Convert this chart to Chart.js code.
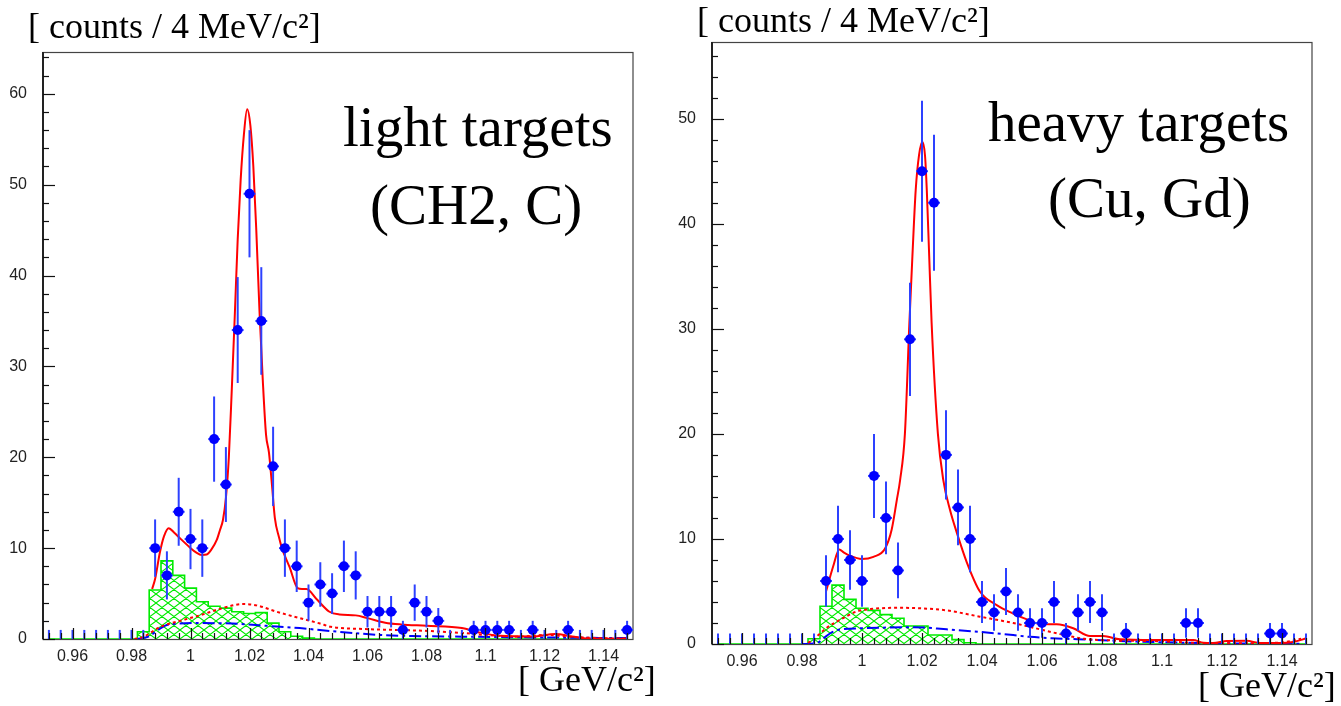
<!DOCTYPE html>
<html><head><meta charset="utf-8">
<script src="https://cdn.jsdelivr.net/npm/chart.js@4.4.0/dist/chart.umd.min.js"></script>
<style>
html,body{margin:0;padding:0;background:#fff;}
#wrap{position:relative;width:1341px;height:706px;overflow:hidden;background:#fff;}
canvas{position:absolute;top:0;}
#cL{left:0;} #cR{left:670px;}
</style></head><body>
<div id="wrap"><canvas id="cL" width="670" height="706"></canvas><canvas id="cR" width="671" height="706"></canvas></div>
<script>
// ---------- data ----------
const binCenters = [0.952,0.956,0.960,0.964,0.968,0.972,0.976,0.980,0.984,0.988,
  0.992,0.996,1.000,1.004,1.008,1.012,1.016,1.020,1.024,1.028,
  1.032,1.036,1.040,1.044,1.048,1.052,1.056,1.060,1.064,1.068,
  1.072,1.076,1.080,1.084,1.088,1.092,1.096,1.100,1.104,1.108,
  1.112,1.116,1.120,1.124,1.128,1.132,1.136,1.140,1.144,1.148];
const binHalfWidth = 0.002;

const lightCounts = [0,0,0,0,0,0,0,0,0,10,
  7,14,11,10,22,17,34,49,35,19,
  10,8,4,6,5,8,7,3,3,3,
  1,4,3,2,0,0,1,1,1,1,
  0,1,0,0,1,0,0,0,0,1];
const lightErrors = [1,1,1,1,1,1,1,1,1,3.16,
  2.65,3.74,3.32,3.16,4.69,4.12,5.83,7,5.92,4.36,
  3.16,2.83,2,2.45,2.24,2.83,2.65,1.73,1.73,1.73,
  1,2,1.73,1.41,1,1,1,1,1,1,
  1,1,1,1,1,1,1,1,1,1];
const heavyCounts = [0,0,0,0,0,0,0,0,0,6,
  10,8,6,16,12,7,29,45,42,18,
  13,10,4,3,5,3,2,2,4,1,
  3,4,3,0,1,0,0,0,0,2,
  2,0,0,0,0,0,1,1,0,0];
const heavyErrors = [1,1,1,1,1,1,1,1,1,2.45,
  3.16,2.83,2.45,4,3.46,2.65,5.39,6.71,6.48,4.24,
  3.61,3.16,2,1.73,2.24,1.73,1.41,1.41,2,1,
  1.73,2,1.73,1,1,1,1,1,1,1.41,
  1.41,1,1,1,1,1,1,1,1,1];

const lightBkgHist = [0,0,0,0,0,0,0,0,0.8,5.4,
  8.6,7.0,5.6,4.1,3.6,3.4,3.0,2.8,2.9,1.75,
  0.8,0.3,0.1,0,0,0,0,0,0,0,
  0,0,0,0,0,0,0,0,0,0,
  0,0,0,0,0,0,0,0,0,0];
const heavyBkgHist = [0,0,0,0,0,0,0,0,0.5,3.6,
  5.6,4.25,3.4,3.2,2.8,2.45,1.72,1.72,0.85,0.85,
  0.42,0.12,0,0,0,0,0,0,0,0,
  0,0,0,0,0,0,0,0,0,0,
  0,0,0,0,0,0,0,0,0,0];

// total fit (red solid)
const lightFitX = [0.9870,0.9880,0.9896,0.9910,0.9926,0.9945,0.9964,0.9997,1.0020,1.0038,1.0055,1.0070,1.0089,1.0100,1.0110,1.0120,1.0130,1.0140,1.0150,1.0160,1.0170,1.0181,1.0192,1.0203,1.0213,1.0223,1.0234,1.0245,1.0256,1.0266,1.0276,1.0286,1.0300,1.0310,1.0336,1.0363,1.0378,1.0393,1.0427,1.0471,1.0505,1.0560,1.0600,1.0660,1.0714,1.0800,1.0920,1.0975,1.1050,1.1160,1.1236,1.1294,1.1350,1.1480];
const lightFitY = [5.5,6.6,9.5,11.3,12.2,11.7,11.1,10.1,9.5,9.25,9.3,9.8,10.9,12.0,13.1,15.5,20,27.5,35.5,44,50.5,55.5,58.3,56.5,52,45,36,28.5,22.5,20.5,17,13.3,11.2,10.0,7.9,5.6,5.5,5.5,4.4,3.0,2.7,2.6,2.3,1.8,1.6,1.45,1.2,0.75,0.35,0.28,0.55,0.28,0.05,0.02];
// red dotted component
const lightDottedX = [0.9810,0.9838,0.9860,0.9889,0.9920,0.9953,1.0031,1.0109,1.0177,1.0224,1.0292,1.0370,1.0439,1.0475,1.0583,1.0697,1.0810,1.0922,1.1003,1.1104,1.1206,1.1284,1.1375,1.1480];
const lightDottedY = [0,0.2,0.6,1.2,1.6,1.9,2.6,3.4,3.85,3.7,3.0,2.3,1.7,1.35,1.1,1.0,0.88,0.66,0.44,0.26,0.44,0.26,0.1,0.05];
// blue dash-dot component
const lightDashDotX = [0.9820,0.9860,0.9890,0.9913,0.9937,1.0031,1.0143,1.0258,1.0370,1.0481,1.0640,1.0750,1.0922,1.1088,1.1257,1.1480];
const lightDashDotY = [0,0.3,1.0,1.45,1.65,1.75,1.7,1.45,1.2,0.85,0.45,0.33,0.26,0.2,0.15,0.1];

const heavyFitX = [0.9880,0.9904,0.9924,0.9940,0.9960,0.9999,1.0038,1.0077,1.0099,1.0116,1.0127,1.0143,1.0158,1.0168,1.0179,1.0190,1.0201,1.0210,1.0216,1.0224,1.0232,1.0253,1.0271,1.0293,1.0316,1.0349,1.0393,1.0449,1.0504,1.0554,1.0593,1.0649,1.0704,1.0760,1.0804,1.0860,1.0970,1.1104,1.1138,1.1170,1.1216,1.1282,1.1327,1.1393,1.1437,1.1482];
const heavyFitY = [5.0,7.4,9.0,8.7,8.4,8.1,8.3,9.1,10.9,13.7,15.6,20,30.6,36.9,43.2,46.5,47.8,46.5,43.2,36.9,30.6,20,15.6,12.8,10.6,7.8,5.0,3.7,2.9,2.3,1.9,1.88,1.5,0.76,0.76,0.45,0.38,0.38,0.12,0.1,0.29,0.31,0.1,0.1,0.2,0.54];
const heavyDottedX = [0.9820,0.9837,0.9860,0.9885,0.9927,0.9982,1.0038,1.0116,1.0193,1.0282,1.0393,1.0504,1.0550,1.0600,1.0660,1.0740,1.0843,1.0984,1.1125,1.1266,1.1400,1.1464];
const heavyDottedY = [0.1,0.4,1.0,1.6,2.3,3.1,3.35,3.45,3.4,3.2,2.6,2.0,1.7,1.35,0.95,0.5,0.33,0.27,0.1,0.07,0.15,0.5];
const heavyDashDotX = [0.9800,0.9850,0.9870,0.9893,0.9921,1.0004,1.0171,1.0282,1.0393,1.0504,1.0560,1.0632,1.0773,1.0914,1.1055,1.1196,1.1460];
const heavyDashDotY = [0,0.1,0.5,1.0,1.35,1.5,1.6,1.4,1.15,0.85,0.68,0.55,0.4,0.23,0.13,0.07,0.03];

const xTickValues = [0.96,0.98,1.00,1.02,1.04,1.06,1.08,1.10,1.12,1.14];
const xTickLabels = ['0.96','0.98','1','1.02','1.04','1.06','1.08','1.1','1.12','1.14'];
const lightYTicks = [0,10,20,30,40,50,60];
const heavyYTicks = [0,10,20,30,40,50];

const yAxisTitle = '[ counts / 4 MeV/c\u00B2]';
const xAxisTitle = '[ GeV/c\u00B2]';
const lightLabel = ['light targets', '(CH2, C)'];
const heavyLabel = ['heavy targets', '(Cu, Gd)'];

// ---------- helpers ----------
const pts = (xs, ys) => xs.map((x, i) => ({x: x, y: ys[i]}));

function makeHatch(color) {
  const c = document.createElement('canvas');
  const w = 12, h = 9;
  c.width = w; c.height = h;
  const g = c.getContext('2d');
  g.strokeStyle = color; g.lineWidth = 1.1;
  g.beginPath();
  for (const dx of [-w, 0, w]) {
    g.moveTo(dx, 0); g.lineTo(dx + w, h);
    g.moveTo(dx + w, 0); g.lineTo(dx, h);
  }
  g.stroke();
  return g.createPattern(c, 'repeat');
}

const errorBarsPlugin = {
  id: 'errorBars',
  beforeDatasetDraw(chart, args) {
    const ds = chart.data.datasets[args.index];
    if (!ds.errorBars) return;
    const xs = chart.scales.x, ys = chart.scales.y, ctx = chart.ctx, a = chart.chartArea;
    ctx.save();
    ctx.beginPath(); ctx.rect(a.left, a.top, a.right - a.left, a.bottom - a.top); ctx.clip();
    ctx.strokeStyle = 'rgb(45,65,255)';
    ctx.lineWidth = 2;
    ds.data.forEach((p, i) => {
      const e = ds.errorBars[i];
      const px = xs.getPixelForValue(p.x);
      const lo = Math.max(0, p.y - e), hi = p.y + e;
      ctx.beginPath();
      ctx.moveTo(px, ys.getPixelForValue(lo));
      ctx.lineTo(px, ys.getPixelForValue(hi));
      ctx.stroke();
      if (p.y > 0) {
        const py = ys.getPixelForValue(p.y);
        ctx.beginPath();
        ctx.moveTo(xs.getPixelForValue(p.x - binHalfWidth), py);
        ctx.lineTo(xs.getPixelForValue(p.x + binHalfWidth), py);
        ctx.stroke();
      }
    });
    ctx.restore();
  }
};

const framePlugin = {
  id: 'frameTicks',
  beforeDatasetsDraw(chart) {
    const {ctx, chartArea: a} = chart;
    ctx.save();
    ctx.strokeStyle = '#444';
    ctx.lineWidth = 1.2;
    ctx.strokeRect(a.left, a.top + 0.5, a.right - a.left, a.bottom - a.top);
    ctx.restore();
  },
  afterDatasetsDraw(chart, args, opts) {
    const {ctx, chartArea: a, scales: {x, y}} = chart;
    ctx.save();
    ctx.strokeStyle = '#222';
    ctx.lineWidth = 2;
    ctx.beginPath(); ctx.moveTo(a.left, a.top); ctx.lineTo(a.left, a.bottom); ctx.stroke();
    ctx.lineWidth = 1.2;
    ctx.strokeStyle = '#111';
    const xStep = opts.xMinor;
    for (let k = 0; ; k++) {
      const v = x.min + xStep / 2 + k * xStep;
      if (v > x.max) break;
      const major = Math.abs(v / opts.xMajor - Math.round(v / opts.xMajor)) < 1e-6;
      const len = major ? 11 : 6;
      const px = Math.round(x.getPixelForValue(v)) + 0.5;
      ctx.beginPath(); ctx.moveTo(px, a.bottom); ctx.lineTo(px, a.bottom - len); ctx.stroke();
    }
    for (let v = 0; v <= y.max + 1e-9; v += opts.yMinor) {
      const major = Math.abs(v / opts.yMajor - Math.round(v / opts.yMajor)) < 1e-6;
      const len = major ? 12 : 6;
      const py = Math.round(y.getPixelForValue(v)) + 0.5;
      ctx.beginPath(); ctx.moveTo(a.left, py); ctx.lineTo(a.left + len, py); ctx.stroke();
    }
    ctx.restore();
  }
};

const textPlugin = {
  id: 'panelText',
  afterDraw(chart, args, opts) {
    const ctx = chart.ctx;
    ctx.save();
    ctx.fillStyle = '#000';
    ctx.textBaseline = 'alphabetic';
    ctx.textAlign = 'left';
    (opts.items || []).forEach(it => {
      ctx.font = it.size + 'px "Liberation Serif", "Times New Roman", serif';
      ctx.fillText(it.text, it.x, it.y);
    });
    ctx.restore();
  }
};

function buildChart(canvasId, cfg) {
  const hatch = makeHatch('rgb(0,235,0)');
  return new Chart(document.getElementById(canvasId), {
    type: 'scatter',
    data: {
      datasets: [
        {type: 'scatter', data: pts(binCenters, cfg.counts), errorBars: cfg.errors,
          pointRadius: c => (c.raw && c.raw.y > 0 ? 5 : 0), pointHoverRadius: 0,
          backgroundColor: 'rgb(0,0,255)', borderColor: 'rgb(0,0,255)', borderWidth: 0, order: 0},
        {type: 'line', data: pts(cfg.fitX, cfg.fitY), borderColor: 'rgb(255,0,0)', borderWidth: 2,
          pointRadius: 0, cubicInterpolationMode: 'monotone', fill: false, order: 1},
        {type: 'line', data: pts(cfg.dotX, cfg.dotY), borderColor: 'rgb(255,0,0)', borderWidth: 2,
          borderDash: [3, 3], pointRadius: 0, cubicInterpolationMode: 'monotone', fill: false, order: 2},
        {type: 'line', data: pts(cfg.ddX, cfg.ddY), borderColor: 'rgb(0,0,255)', borderWidth: 2,
          borderDash: [12, 4, 3, 4], pointRadius: 0, cubicInterpolationMode: 'monotone', fill: false, order: 3},
        {type: 'line', data: pts(binCenters, cfg.bkg), stepped: 'middle', fill: 'origin',
          backgroundColor: hatch, borderColor: 'rgb(0,235,0)', borderWidth: 1.6, pointRadius: 0, order: 4}
      ]
    },
    options: {
      responsive: false, animation: false, devicePixelRatio: 1,
      layout: {padding: {top: cfg.top, right: cfg.padRight, left: 0, bottom: 0}},
      plugins: {
        legend: {display: false}, tooltip: {enabled: false},
        frameTicks: {xMinor: 0.004, xMajor: 0.02, yMinor: 2, yMajor: 10},
        panelText: {items: cfg.texts}
      },
      scales: {
        x: {type: 'linear', min: 0.95, max: 1.15,
          grid: {display: false, drawTicks: false}, border: {display: false},
          afterBuildTicks: s => { s.ticks = xTickValues.map(v => ({value: v})); },
          afterFit: s => { s.height = cfg.xAxisHeight; },
          ticks: {autoSkip: false, maxRotation: 0, padding: 8, color: '#222',
            font: {family: 'Liberation Sans', size: 16},
            callback: (v, i) => xTickLabels[i]}},
        y: {type: 'linear', min: 0, max: cfg.yMax,
          grid: {display: false, drawTicks: false}, border: {display: false},
          afterBuildTicks: s => { s.ticks = cfg.yTicks.map(v => ({value: v})); },
          afterFit: s => { s.width = cfg.yAxisWidth; },
          ticks: {autoSkip: false, padding: 16, color: '#222',
            font: {family: 'Liberation Sans', size: 16},
            callback: v => String(v)}}
      }
    },
    plugins: [framePlugin, errorBarsPlugin, textPlugin]
  });
}

buildChart('cL', {
  counts: lightCounts, errors: lightErrors, bkg: lightBkgHist,
  fitX: lightFitX, fitY: lightFitY, dotX: lightDottedX, dotY: lightDottedY,
  ddX: lightDashDotX, ddY: lightDashDotY,
  yMax: 64.6, yTicks: lightYTicks, top: 52, padRight: 37, xAxisHeight: 67, yAxisWidth: 43,
  texts: [
    {text: yAxisTitle, x: 28, y: 38, size: 36},
    {text: lightLabel[0], x: 343, y: 146, size: 57},
    {text: lightLabel[1], x: 370, y: 224, size: 57},
    {text: xAxisTitle, x: 518, y: 691, size: 36}
  ]
});

buildChart('cR', {
  counts: heavyCounts, errors: heavyErrors, bkg: heavyBkgHist,
  fitX: heavyFitX, fitY: heavyFitY, dotX: heavyDottedX, dotY: heavyDottedY,
  ddX: heavyDashDotX, ddY: heavyDashDotY,
  yMax: 57.3, yTicks: heavyYTicks, top: 42, padRight: 29, xAxisHeight: 62, yAxisWidth: 42,
  texts: [
    {text: yAxisTitle, x: 27, y: 32, size: 36},
    {text: heavyLabel[0], x: 318, y: 141, size: 57},
    {text: heavyLabel[1], x: 378, y: 217, size: 57},
    {text: xAxisTitle, x: 528, y: 697, size: 36}
  ]
});
</script>
</body></html>
